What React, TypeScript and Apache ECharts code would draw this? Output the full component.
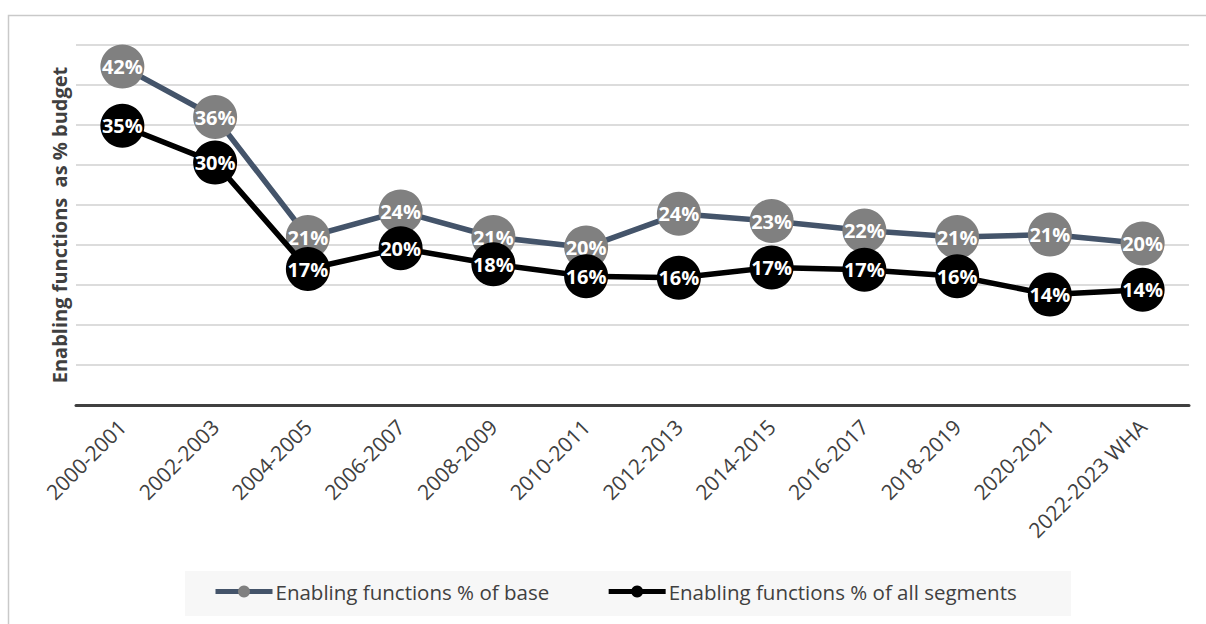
import React, { useEffect, useRef } from "react";
import * as echarts from "echarts";

const categories = [
  "2000-2001", "2002-2003", "2004-2005", "2006-2007", "2008-2009", "2010-2011",
  "2012-2013", "2014-2015", "2016-2017", "2018-2019", "2020-2021", "2022-2023 WHA",
];
const baseValues = [42.3, 36.0, 21.0, 24.2, 21.0, 19.7, 23.9, 23.0, 21.8, 21.0, 21.3, 20.2];
const allSegmentsValues = [34.9, 30.3, 17.0, 19.6, 17.6, 16.1, 15.9, 17.2, 16.9, 16.1, 13.8, 14.4];
const seriesNames = ["Enabling functions % of base", "Enabling functions % of all segments"];
const yAxisTitle = "Enabling functions  as % budget";

const FONT = "'Open Sans', 'Noto Sans', sans-serif";

export default function App() {
  const ref = useRef<HTMLDivElement>(null);
  useEffect(() => {
    if (!ref.current) return;
    const chart = echarts.init(ref.current, undefined, { renderer: "svg" });
    const label = {
      show: true,
      position: "inside",
      color: "#ffffff",
      fontWeight: "bold",
      fontSize: 20,
      fontFamily: FONT,
      formatter: (p: any) => Math.round(p.value) + "%",
    };
    chart.setOption({
      animation: false,
      backgroundColor: "#ffffff",
      textStyle: { fontFamily: FONT },
      graphic: [
        {
          type: "rect",
          z: -10,
          shape: { x: 8.5, y: 15.5, width: 1300, height: 700 },
          style: { fill: "none", stroke: "#c9c9c9", lineWidth: 1.5 },
          silent: true,
        },
        {
          type: "rect",
          z: -5,
          shape: { x: 185, y: 571, width: 886, height: 45 },
          style: { fill: "#f7f7f7" },
          silent: true,
        },
      ],
      grid: { left: 76, right: 17, top: 45, bottom: 219, containLabel: false },
      legend: {
        left: 213,
        top: 581,
        padding: 0,
        itemWidth: 57,
        itemHeight: 15,
        itemGap: 57,
        textStyle: { color: "#404040", fontSize: 20.5, fontFamily: FONT, padding: [0, 0, 0, -2] },
        data: [
          { name: seriesNames[0], lineStyle: { width: 5, color: "#44546A" }, itemStyle: { color: "#808080" } },
          { name: seriesNames[1], lineStyle: { width: 5, color: "#000000" }, itemStyle: { color: "#000000" } },
        ],
      },
      xAxis: {
        type: "category",
        data: categories,
        boundaryGap: true,
        axisLine: { show: true, lineStyle: { color: "#404040", width: 3 } },
        axisTick: { show: false },
        axisLabel: {
          rotate: 45,
          color: "#404040",
          fontSize: 21,
          fontFamily: FONT,
          margin: 18,
          interval: 0,
        },
      },
      yAxis: {
        type: "value",
        min: 0,
        max: 45,
        interval: 5,
        axisLine: { show: false },
        axisTick: { show: false },
        axisLabel: { show: false },
        splitLine: { show: true, lineStyle: { color: "#d0d0d0", width: 1.5 } },
        name: yAxisTitle,
        nameLocation: "middle",
        nameGap: 7,
        nameTextStyle: { color: "#404040", fontSize: 20, fontWeight: "bold", fontFamily: FONT },
      },
      series: [
        {
          name: seriesNames[0],
          type: "line",
          data: baseValues,
          symbol: "circle",
          symbolSize: 44,
          lineStyle: { color: "#44546A", width: 5.5 },
          itemStyle: { color: "#808080" },
          label,
          z: 2,
        },
        {
          name: seriesNames[1],
          type: "line",
          data: allSegmentsValues,
          symbol: "circle",
          symbolSize: 44,
          lineStyle: { color: "#000000", width: 5.5 },
          itemStyle: { color: "#000000" },
          label,
          z: 3,
        },
      ],
    });
    return () => chart.dispose();
  }, []);
  return (
    <div
      ref={ref}
      style={{ position: "fixed", left: 0, top: 0, width: 1206, height: 624 }}
    />
  );
}
